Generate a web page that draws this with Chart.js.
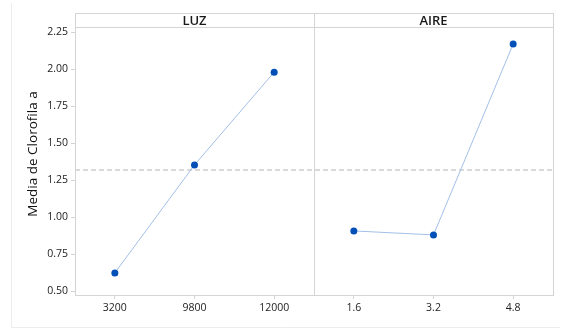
<!DOCTYPE html>
<html>
<head>
<meta charset="utf-8">
<script src="https://cdn.jsdelivr.net/npm/chart.js@4.4.1/dist/chart.umd.min.js"></script>
<style>
  html, body { margin: 0; padding: 0; background: #ffffff; }
  #wrap { width: 567px; height: 330px; position: relative; }
</style>
</head>
<body>
<div id="wrap"><canvas id="efectos"></canvas></div>
<script>
// Factores y niveles
const factores = ['LUZ', 'AIRE'];
const nivelesLuz = ['3200', '9800', '12000'];
const nivelesAire = ['1.6', '3.2', '4.8'];

// Medias de clorofila a por nivel
const mediasLuz = [0.622, 1.352, 1.979];
const mediasAire = [0.906, 0.879, 2.169];

const yTicks = [0.50, 0.75, 1.00, 1.25, 1.50, 1.75, 2.00, 2.25];
const yMin = 0.473;
const yMax = 2.284;

const etiquetas = nivelesLuz.concat(nivelesAire);
const todos = mediasLuz.concat(mediasAire);
const mediaGeneral = todos.reduce((a, b) => a + b, 0) / todos.length;

const FONT = "'Open Sans', 'Noto Sans', sans-serif";
const GRIS = '#d4d4d4';

// marco, cabeceras de panel, divisor y linea de la media
const panelPlugin = {
    id: 'panelPlugin',
    beforeDatasetsDraw(chart) {
        const { ctx, chartArea: a, scales: { x, y } } = chart;
        const headTop = 13;
        const split = (x.getPixelForValue(nivelesLuz.length - 1) + x.getPixelForValue(nivelesLuz.length)) / 2;
        ctx.save();

        // media general
        const ym = y.getPixelForValue(mediaGeneral);
        ctx.strokeStyle = '#b4b4b4';
        ctx.lineWidth = 1.2;
        ctx.setLineDash([5, 3]);
        ctx.beginPath();
        ctx.moveTo(a.left, ym);
        ctx.lineTo(a.right, ym);
        ctx.stroke();
        ctx.setLineDash([]);

        // marco
        ctx.strokeStyle = GRIS;
        ctx.lineWidth = 1;
        ctx.strokeRect(a.left + 0.5, headTop + 0.5, a.right - a.left, a.bottom - headTop);
        ctx.beginPath();
        ctx.moveTo(a.left, a.top + 0.5);
        ctx.lineTo(a.right, a.top + 0.5);
        ctx.moveTo(Math.round(split) + 0.5, headTop);
        ctx.lineTo(Math.round(split) + 0.5, a.bottom);
        ctx.stroke();

        // titulos de panel
        ctx.fillStyle = '#1a1a1a';
        ctx.font = '600 13px ' + FONT;
        ctx.textAlign = 'center';
        ctx.textBaseline = 'middle';
        const cy = (headTop + a.top) / 2 + 1;
        ctx.fillText(factores[0], (a.left + split) / 2, cy);
        ctx.fillText(factores[1], (split + a.right) / 2, cy);

        // titulo del eje y
        ctx.fillStyle = '#111';
        ctx.font = '500 13.5px ' + FONT;
        ctx.translate(33, (headTop + a.bottom) / 2);
        ctx.rotate(-Math.PI / 2);
        ctx.fillText('Media de Clorofila a', 0, 0);
        ctx.restore();

        // borde exterior tenue
        ctx.save();
        ctx.strokeStyle = '#ececec';
        ctx.beginPath();
        ctx.moveTo(11.5, 3);
        ctx.lineTo(11.5, 327.5);
        ctx.lineTo(560, 327.5);
        ctx.stroke();
        ctx.restore();
    }
};

new Chart(document.getElementById('efectos'), {
    type: 'line',
    data: {
        labels: etiquetas,
        datasets: [{
            label: factores[0],
            data: mediasLuz.concat(nivelesAire.map(() => null)),
        }, {
            label: factores[1],
            data: nivelesLuz.map(() => null).concat(mediasAire),
        }]
    },
    options: {
        responsive: true,
        maintainAspectRatio: false,
        animation: false,
        spanGaps: false,
        layout: { padding: { left: 11, right: 14, top: 27, bottom: 0 } },
        elements: {
            line: { borderColor: '#a3bfe8', borderWidth: 1, tension: 0 },
            point: { radius: 3.5, backgroundColor: '#0050b8', borderColor: '#0050b8', borderWidth: 0 }
        },
        plugins: {
            legend: { display: false },
            tooltip: { enabled: false }
        },
        scales: {
            x: {
                type: 'category',
                offset: true,
                grid: { offset: false, drawOnChartArea: false, tickLength: 4, color: GRIS },
                border: { color: GRIS },
                ticks: { color: '#222', padding: 3, font: { family: FONT, size: 10.5, weight: '500' } },
                afterFit: (s) => { s.height = 35; }
            },
            y: {
                min: yMin,
                max: yMax,
                grid: { drawOnChartArea: false, tickLength: 4, color: GRIS },
                border: { color: GRIS },
                afterBuildTicks: (s) => { s.ticks = yTicks.map(v => ({ value: v })); },
                ticks: {
                    color: '#222',
                    padding: 3,
                    font: { family: FONT, size: 10.5, weight: '500' },
                    callback: (v) => Number(v).toFixed(2)
                },
                afterFit: (s) => { s.width = 64; }
            }
        }
    },
    plugins: [panelPlugin]
});
</script>
</body>
</html>
